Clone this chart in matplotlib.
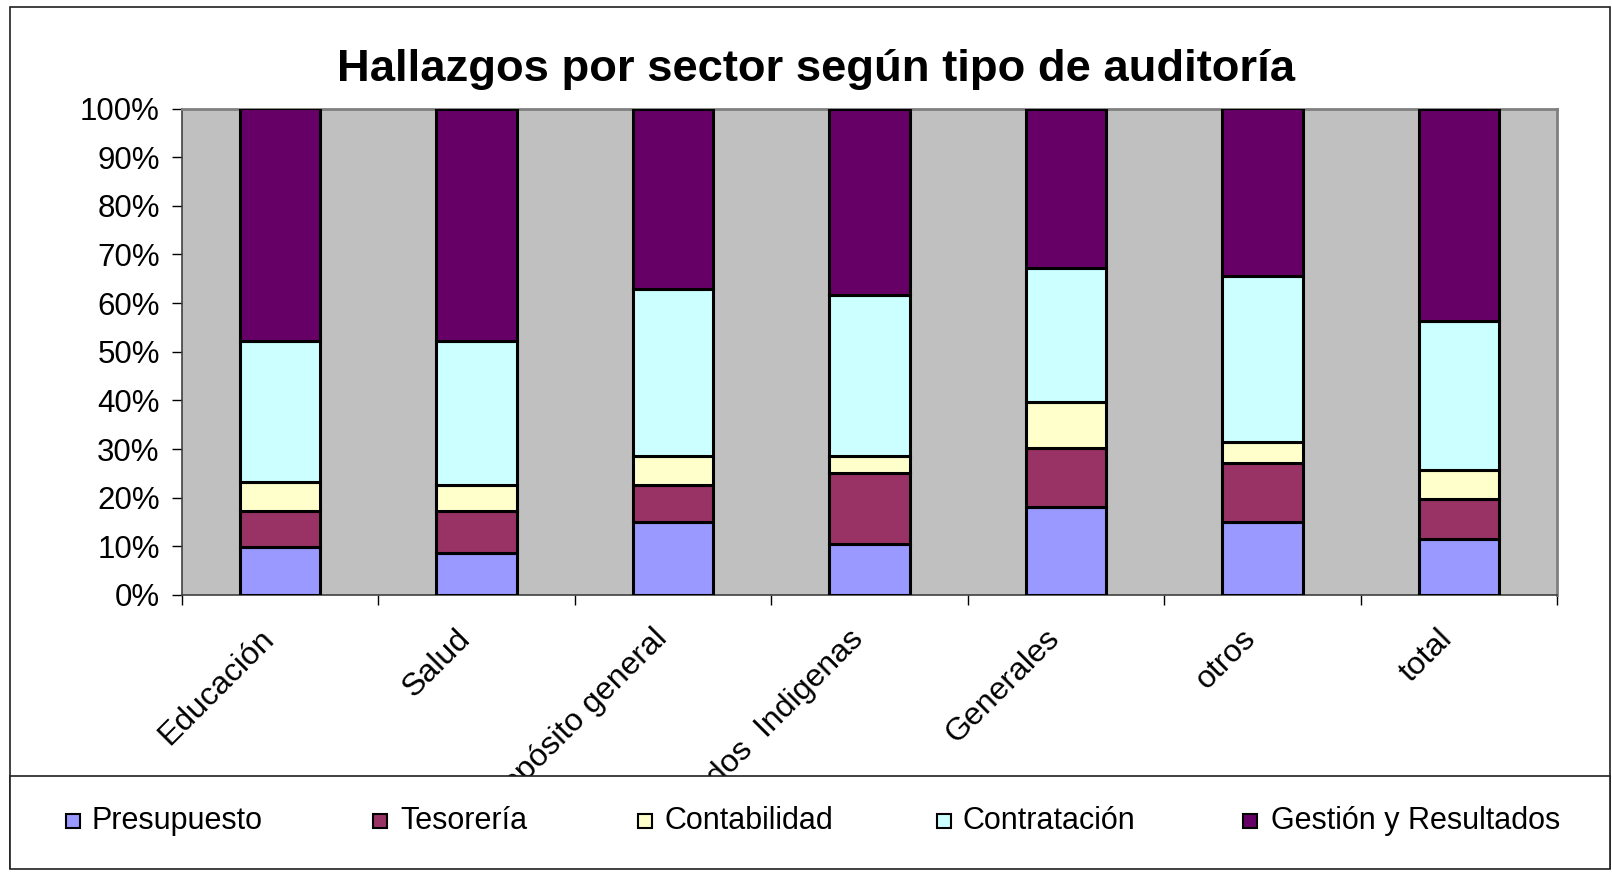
import matplotlib
matplotlib.use('Agg')
import matplotlib.pyplot as plt
import numpy as np
from matplotlib.patches import Rectangle
from matplotlib.ticker import PercentFormatter, FixedLocator

plt.rcParams['font.family'] = ['Liberation Sans', 'DejaVu Sans']

######################################## data (percent of findings per sector)

categories = ['Educación', 'Salud', 'Propósito general', 'Resguardos  Indigenas',
              'Generales', 'otros', 'total']
series_names = ['Presupuesto', 'Tesorería', 'Contabilidad', 'Contratación',
                'Gestión y Resultados']

presupuesto = [9.8, 8.6, 15.1, 10.4, 18.0, 15.0, 11.6]
tesoreria = [7.5, 8.7, 7.5, 14.6, 12.2, 12.2, 8.1]
contabilidad = [5.9, 5.3, 5.9, 3.5, 9.4, 4.2, 5.9]
contratacion = [29.1, 29.7, 34.3, 33.1, 27.7, 34.2, 30.7]
gestion = [47.7, 47.7, 37.2, 38.4, 32.7, 34.4, 43.7]

colors = ['#9999FF', '#993366', '#FFFFCC', '#CCFFFF', '#660066']

######################################## figure

W, H = 1612, 874
fig = plt.figure(figsize=(W / 100, H / 100), dpi=100)
ax = fig.add_axes([182 / W, 1 - 595 / H, (1557 - 182) / W, (595 - 108.5) / H])
ax.set_facecolor('#C0C0C0')

data = np.array([presupuesto, tesoreria, contabilidad, contratacion, gestion], dtype=float)
data = data / data.sum(axis=0) * 100   # 100% stacked

x = np.arange(len(categories))
bottom = np.zeros(len(categories))
for vals, col in zip(data, colors):
    ax.bar(x, vals, width=0.41, bottom=bottom, color=col,
           edgecolor='black', linewidth=2.2, zorder=3)
    bottom += vals

ax.set_xlim(-0.5, len(categories) - 0.5)
ax.set_ylim(0, 100)

# y axis
ax.set_yticks(np.arange(0, 101, 10))
ax.yaxis.set_major_formatter(PercentFormatter(decimals=0))
ax.tick_params(axis='y', direction='out', length=7, width=1, labelsize=22.5, pad=9)

# x axis: labels at centers, ticks at boundaries
ax.set_xticks(x)
ax.set_xticklabels(categories, rotation=45, ha='right', va='bottom',
                   rotation_mode='anchor', fontsize=23)
ax.tick_params(axis='x', which='major', length=0, pad=36)
ax.xaxis.set_minor_locator(FixedLocator(np.arange(-0.5, len(categories), 1)))
ax.tick_params(axis='x', which='minor', direction='out', length=7, width=1)

for s in ['left', 'bottom']:
    ax.spines[s].set_color('#404040')
    ax.spines[s].set_linewidth(1.2)
for s in ['top', 'right']:
    ax.spines[s].set_color('#808080')
    ax.spines[s].set_linewidth(2)

# title
fig.text(816 / W, 1 - 81 / H, 'Hallazgos por sector según tipo de auditoría',
         ha='center', va='baseline', fontsize=32.7, fontweight='bold')

# outer border of chart area
fig.patches.append(Rectangle((10 / W, 1 - 869 / H), (1610 - 10) / W, (869 - 7) / H,
                             transform=fig.transFigure, fill=False,
                             edgecolor='#202020', linewidth=1.2, zorder=1))

# white strip below the legend so the long labels do not peek out
fig.patches.append(Rectangle((0, 0), 1, (H - 869) / H, transform=fig.transFigure,
                             facecolor='white', edgecolor='none', zorder=9))

# legend box (drawn over the long category labels, as in the original)
fig.patches.append(Rectangle((10 / W, 1 - 869 / H), (1610 - 10) / W, (869 - 776) / H,
                             transform=fig.transFigure, facecolor='white',
                             edgecolor='#202020', linewidth=1.2, zorder=10))

sq_left = [66, 373, 638, 937, 1243]
txt_left = [92, 400, 665, 963, 1271]
ly = 1 - 821 / H
for name, col, sx, tx in zip(series_names, colors, sq_left, txt_left):
    fig.patches.append(Rectangle((sx / W, ly - 7 / H), 14 / W, 14 / H,
                                 transform=fig.transFigure, facecolor=col,
                                 edgecolor='black', linewidth=1.5, zorder=11))
    fig.text(tx / W, ly, name, ha='left', va='center', fontsize=22, zorder=12)

fig.savefig('out.png', dpi=100)
